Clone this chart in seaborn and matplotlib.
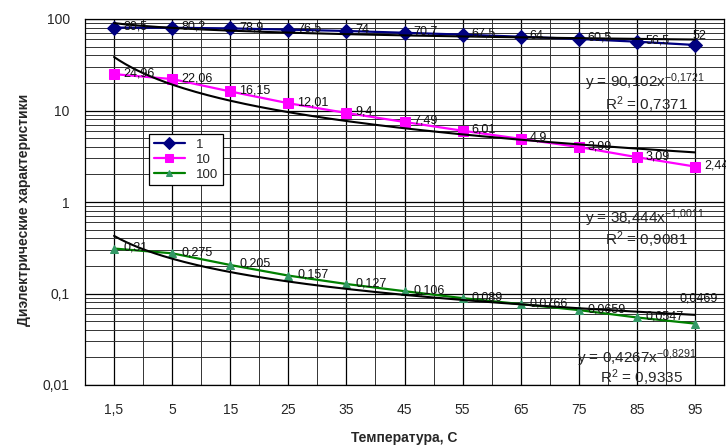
import numpy as np
import pandas as pd
import seaborn as sns
import matplotlib.pyplot as plt
from matplotlib.ticker import LogLocator, NullFormatter, FixedLocator

sns.set_theme(style="white")
plt.rcParams['font.family'] = ['Liberation Sans', 'DejaVu Sans']
plt.rcParams['mathtext.fontset'] = 'custom'
plt.rcParams['mathtext.rm'] = 'Liberation Sans'
plt.rcParams['mathtext.it'] = 'Liberation Sans'

# data
temps = ["1,5", "5", "15", "25", "35", "45", "55", "65", "75", "85", "95"]
f1 = [80.5, 80.2, 78.9, 76.5, 74, 70.7, 67.5, 64, 60.5, 56.5, 52]
f10 = [24.96, 22.06, 16.15, 12.01, 9.4, 7.49, 6.01, 4.9, 3.99, 3.09, 2.44]
f100 = [0.31, 0.275, 0.205, 0.157, 0.127, 0.106, 0.089, 0.0766, 0.0659, 0.0547, 0.0469]
f1_labels = ["80,5", "80,2", "78,9", "76,5", "74", "70,7", "67,5", "64", "60,5", "56,5", "52"]
f10_labels = ["24,96", "22,06", "16,15", "12,01", "9,4", "7,49", "6,01", "4,9", "3,99", "3,09", "2,44"]
f100_labels = ["0,31", "0,275", "0,205", "0,157", "0,127", "0,106", "0,089", "0,0766", "0,0659", "0,0547", "0,0469"]
eq_texts = [r"y = 90,102x$^{-0{,}1721}$", r"y = 38,444x$^{-1{,}0011}$", r"y = 0,4267x$^{-0{,}8291}$"]
r2_texts = [r"R$^{2}$ = 0,7371", r"R$^{2}$ = 0,9081", r"R$^{2}$ = 0,9335"]

series = [
    ("1", f1, f1_labels, "#000080", "#000080", "D", 7.5),
    ("10", f10, f10_labels, "#FF00FF", "#FF00FF", "s", 7.5),
    ("100", f100, f100_labels, "#008000", "#339966", "^", 6),
]

fig, ax = plt.subplots(figsize=(7.26, 4.46), dpi=100)
fig.subplots_adjust(left=85/726, right=724/726, top=1-19/446, bottom=1-385/446)

pos = np.arange(len(temps))
for name, vals, labs, col, mcol, mk, ms in series:
    d = pd.DataFrame({"pos": pos, "value": vals})
    sns.lineplot(data=d, x="pos", y="value", color=col, marker=mk, markersize=ms,
                 markerfacecolor=mcol, markeredgecolor=mcol, linewidth=1.6,
                 label=name, ax=ax, zorder=3)

# power trendlines (fit in log-log space, x = 1..n like Excel)
xs = np.linspace(1, len(temps), 200)
for name, vals, labs, col, mcol, mk, ms in series:
    b, lna = np.polyfit(np.log(pos + 1), np.log(vals), 1)
    ax.plot(xs - 1, np.exp(lna) * xs ** b, color="black", lw=1.5, zorder=4)

# data labels
special = {("1", 10): (-2, 9, "left"), ("100", 10): (4, 25, "center")}
for name, vals, labs, col, mcol, mk, ms in series:
    for i, (v, t) in enumerate(zip(vals, labs)):
        dx, dy, ha = special.get((name, i), (9, 1, "left"))
        ax.annotate(t, (i, v), xytext=(dx * 0.72, dy * 0.72), textcoords="offset points",
                    ha=ha, va="center", fontsize=9, color="#111111",
                    zorder=5, annotation_clip=False)

# trendline equations
eq_pos = [(0.782, 0.828, 0.814, 0.765), (0.782, 0.456, 0.814, 0.396), (0.770, 0.074, 0.806, 0.019)]
for (ex, ey, rx, ry), et, rt in zip(eq_pos, eq_texts, r2_texts):
    ax.text(ex, ey, et, transform=ax.transAxes, fontsize=11, va="center", ha="left", zorder=6)
    ax.text(rx, ry, rt, transform=ax.transAxes, fontsize=11, va="center", ha="left", zorder=6)

ax.set_yscale("log")
ax.set_ylim(0.01, 100)
ax.set_xlim(-0.5, len(temps) - 0.5)
ax.set_yticks([0.01, 0.1, 1, 10, 100])
ax.set_yticklabels(["0,01", "0,1", "1", "10", "100"])
ax.yaxis.set_minor_locator(LogLocator(base=10, subs=np.arange(2, 10)))
ax.yaxis.set_minor_formatter(NullFormatter())
ax.set_xticks(pos)
ax.set_xticklabels(temps)
ax.xaxis.set_minor_locator(FixedLocator(pos[:-1] + 0.5))

ax.grid(which="major", color="black", lw=0.9)
ax.grid(which="minor", color="#333333", lw=0.7)
ax.set_axisbelow(True)
ax.tick_params(axis="y", which="major", direction="out", length=5, width=0.8,
               color="black", labelsize=10, pad=6)
ax.tick_params(axis="y", which="minor", length=0)
ax.tick_params(axis="x", which="both", length=0, labelsize=10, pad=13)
for sp in ax.spines.values():
    sp.set_color("black")
    sp.set_linewidth(0.9)

ax.set_xlabel("Температура, С", fontsize=10, fontweight="bold")
ax.set_ylabel("Диэлектрические характеристики", fontsize=10, fontweight="bold")
ax.xaxis.set_label_coords(0.5, -0.125)
ax.yaxis.set_label_coords(-0.085, 0.478)

leg = ax.legend(loc="upper left", bbox_to_anchor=(0.100, 0.686), fontsize=9.5,
                frameon=True, fancybox=False, edgecolor="black", framealpha=1,
                handlelength=2.4, borderpad=0.35, labelspacing=0.2,
                borderaxespad=0, markerscale=0.75)
leg.get_frame().set_linewidth(0.9)
leg.set_zorder(10)

fig.savefig("out.png", dpi=100)
